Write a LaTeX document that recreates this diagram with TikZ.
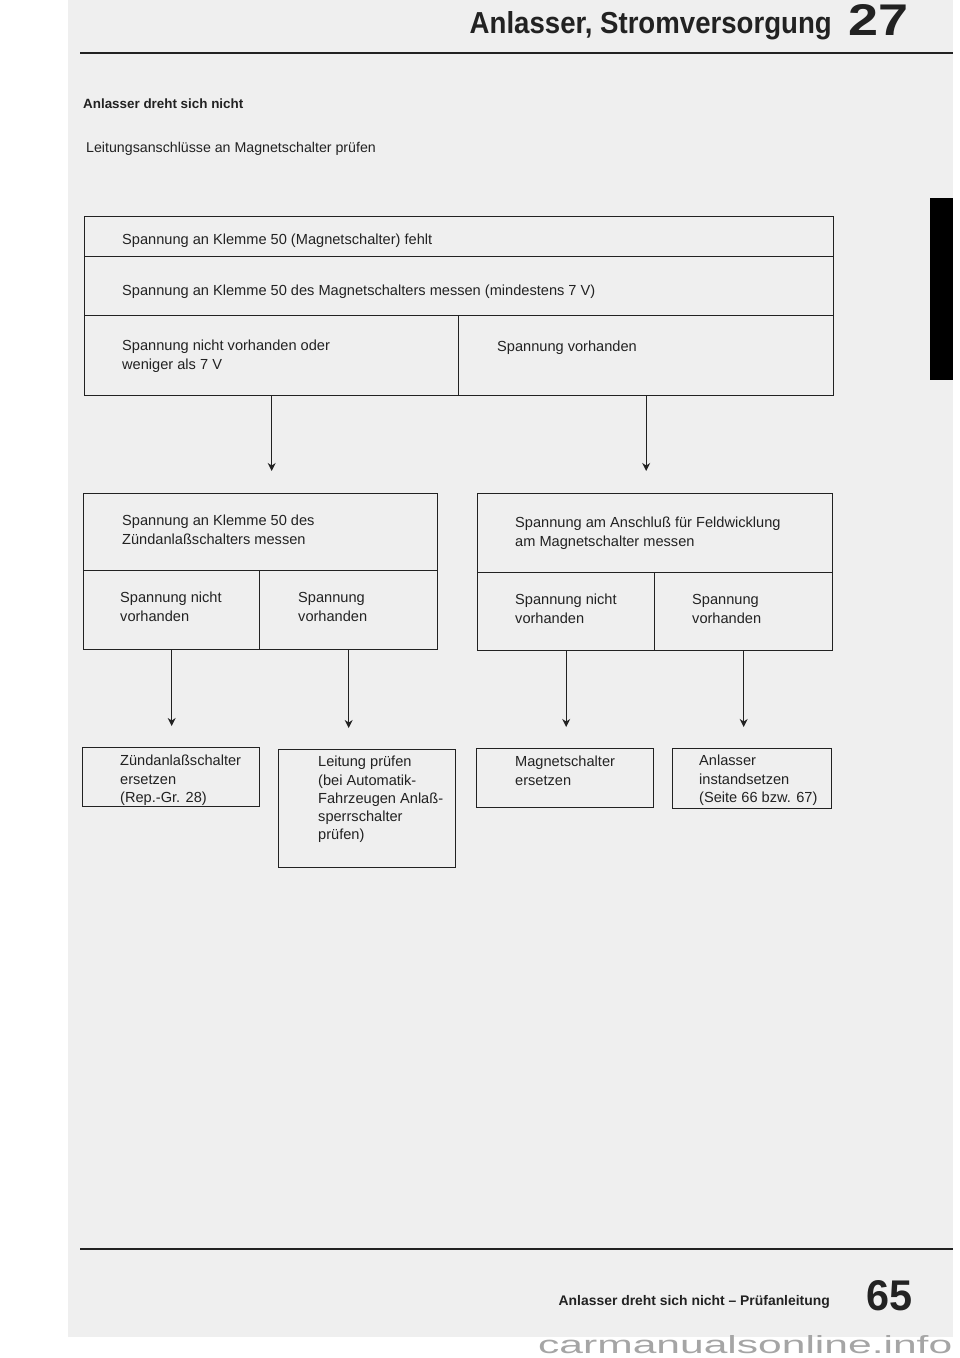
\documentclass[tikz,border=0pt]{standalone}
\usepackage{fontspec}
\setmainfont{Liberation Sans}
\usetikzlibrary{arrows.meta}
\definecolor{pagegray}{RGB}{239,239,239}
\definecolor{ink}{RGB}{34,34,34}
\definecolor{wmark}{RGB}{165,165,165}
\begin{document}
\begin{tikzpicture}[x=1pt,y=-1pt,
  cell/.style={draw=ink,line width=1.4pt,anchor=north west,inner sep=0pt,rectangle},
  txt/.style={anchor=north west,inner sep=0pt,align=left,text=ink,font=\fontsize{14.6}{18.6}\selectfont},
  flow/.style={draw=ink,line width=1.1pt,-{Stealth[length=8pt,width=8pt,inset=2.5pt]},shorten >=21pt}
]
\useasboundingbox (0,0) rectangle (960,1358);
\fill[white] (0,0) rectangle (960,1358);
\fill[pagegray] (68,0) rectangle (953,1337);
% tab
\fill[black] (930,198) rectangle (953,380);
% header
\node[anchor=base east,inner sep=0pt,text=ink] (title) at (832,33) {\resizebox{362pt}{22pt}{\bfseries Anlasser, Stromversorgung}};
\node[anchor=base west,inner sep=0pt,text=ink] (chap) at (848,35) {\resizebox{60pt}{31pt}{\bfseries 27}};
\draw[ink,line width=1.8pt] (80,53) -- (953,53);
\node[anchor=west,inner sep=0pt,text=ink,font=\fontsize{13.4}{16}\selectfont\bfseries] (h1) at (83,104) {Anlasser dreht sich nicht};
\node[anchor=west,inner sep=0pt,text=ink,font=\fontsize{14.2}{17}\selectfont] (h2) at (86,149) {Leitungsanschlüsse an Magnetschalter prüfen};
% main box
\node[cell,minimum width=749pt,minimum height=40pt] (r1) at (84,216) {};
\node[cell,minimum width=749pt,minimum height=59pt] (r2) at (84,256) {};
\node[cell,minimum width=374pt,minimum height=80pt] (r3l) at (84,315) {};
\node[cell,minimum width=375pt,minimum height=80pt] (r3r) at (458,315) {};
\node[txt] (t1) at (122,234) {Spannung an Klemme 50 (Magnetschalter) fehlt};
\node[txt] (t2) at (122,285) {Spannung an Klemme 50 des Magnetschalters messen (mindestens 7 V)};
\node[txt] (t3) at (122,340) {Spannung nicht vorhanden oder\\weniger als 7 V};
\node[txt] (t4) at (497,341) {Spannung vorhanden};
% second level left
\node[cell,minimum width=354pt,minimum height=77pt] (b2l) at (83,493) {};
\node[cell,minimum width=176pt,minimum height=79pt] (b2ll) at (83,570) {};
\node[cell,minimum width=178pt,minimum height=79pt] (b2lr) at (259,570) {};
\node[txt] (t5) at (122,515) {Spannung an Klemme 50 des\\Zündanlaßschalters messen};
\node[txt] (t6) at (120,592) {Spannung nicht\\vorhanden};
\node[txt] (t7) at (298,592) {Spannung\\vorhanden};
% second level right
\node[cell,minimum width=355pt,minimum height=79pt] (b2r) at (477,493) {};
\node[cell,minimum width=177pt,minimum height=78pt] (b2rl) at (477,572) {};
\node[cell,minimum width=178pt,minimum height=78pt] (b2rr) at (654,572) {};
\node[txt] (t8) at (515,517) {Spannung am Anschluß für Feldwicklung\\am Magnetschalter messen};
\node[txt] (t9) at (515,594) {Spannung nicht\\vorhanden};
\node[txt] (t10) at (692,594) {Spannung\\vorhanden};
% end boxes
\node[cell,minimum width=177pt,minimum height=59pt] (e1) at (82,747) {};
\node[cell,minimum width=177pt,minimum height=118pt] (e2) at (278,749) {};
\node[cell,minimum width=177pt,minimum height=59pt] (e3) at (476,748) {};
\node[cell,minimum width=159pt,minimum height=60pt] (e4) at (672,748) {};
\node[txt] (u1) at (120,755) {Zündanlaßschalter\\ersetzen\\(Rep.-Gr. 28)};
\node[txt,font=\fontsize{14.6}{18.3}\selectfont] (u2) at (318,756) {Leitung prüfen\\(bei Automatik-\\Fahrzeugen Anlaß-\\sperrschalter\\prüfen)};
\node[txt] (u3) at (515,756) {Magnetschalter\\ersetzen};
\node[txt] (u4) at (699,755) {Anlasser\\instandsetzen\\(Seite 66 bzw. 67)};
% arrows
\draw[flow,shorten >=22pt] (r3l.south) -- (r3l.south |- b2l.north);
\draw[flow,shorten >=22pt] (r3r.south) -- (r3r.south |- b2r.north);
\draw[flow] (b2ll.south) -- (b2ll.south |- e1.north);
\draw[flow] (b2lr.south) -- (b2lr.south |- e2.north);
\draw[flow] (b2rl.south) -- (b2rl.south |- e3.north);
\draw[flow] (b2rr.south) -- (b2rr.south |- e4.north);
% footer
\draw[ink,line width=1.8pt] (80,1249) -- (953,1249);
\node[anchor=east,inner sep=0pt,text=ink,font=\fontsize{13.9}{16}\selectfont\bfseries] (f1) at (830,1302) {Anlasser dreht sich nicht – Prüfanleitung};
\node[anchor=base west,inner sep=0pt,text=ink] (pg) at (866,1310) {\resizebox{46pt}{30pt}{\bfseries 65}};
\node[anchor=base west,inner sep=0pt,text=wmark] (wm) at (538,1353) {\resizebox{414pt}{18pt}{carmanualsonline.info}};
\end{tikzpicture}
\end{document}
